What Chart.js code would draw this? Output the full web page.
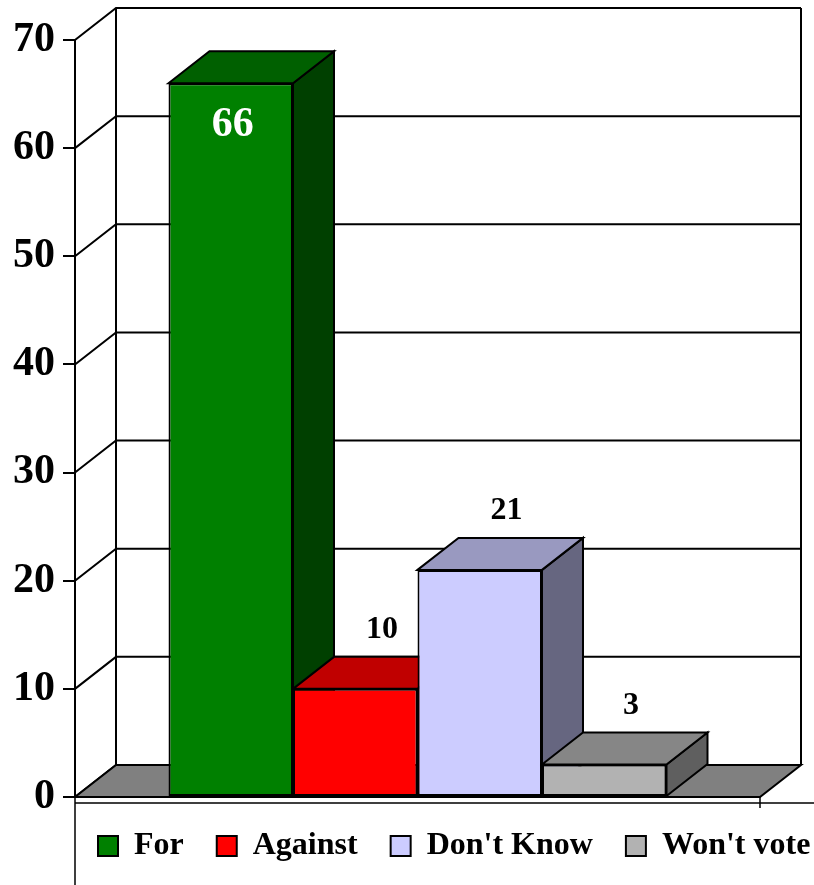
<!DOCTYPE html>
<html>
<head>
<meta charset="utf-8">
<script src="https://cdn.jsdelivr.net/npm/chart.js@4/dist/chart.umd.min.js"></script>
<style>
  html, body { margin: 0; padding: 0; background: #fff; }
  #wrap { width: 814px; height: 885px; position: relative; }
</style>
</head>
<body>
<div id="wrap"><canvas id="c"></canvas></div>
<script>
// poll result, one bar per answer
const categories = ['For', 'Against', "Don't Know", "Won't vote"];
const shares     = [66, 10, 21, 3];
const yTicks     = [0, 10, 20, 30, 40, 50, 60, 70];

const frontColors = ['#008000', '#ff0000', '#ccccff', '#b2b2b2'];
const topColors   = ['#006000', '#c00000', '#9999c0', '#868686'];
const sideColors  = ['#004000', '#800000', '#666680', '#5f5f5f'];

const DX = 41, DY = -32;          // depth of the 3D box
const SERIF = "'Liberation Serif', 'Times New Roman', serif";

function poly(ctx, pts, fill) {
  ctx.beginPath();
  ctx.moveTo(pts[0][0], pts[0][1]);
  for (let i = 1; i < pts.length; i++) ctx.lineTo(pts[i][0], pts[i][1]);
  ctx.closePath();
  if (fill) { ctx.fillStyle = fill; ctx.fill(); }
  ctx.stroke();
}

const box3d = {
  id: 'box3d',
  afterLayout(chart) {
    // legend sits under the plot frame, not centred on the canvas
    chart.legend.left += 65;
    chart.legend.right += 65;
  },
  beforeDatasetsDraw(chart) {
    const { ctx, chartArea: a, scales: { y } } = chart;
    const L = a.left, R = a.right;
    ctx.save();
    ctx.strokeStyle = '#000';
    ctx.lineWidth = 2;
    ctx.lineJoin = 'miter';

    // walls + grid on the back
    yTicks.forEach(v => {
      const py = y.getPixelForValue(v);
      ctx.beginPath();
      ctx.moveTo(L, py);
      ctx.lineTo(L + DX, py + DY);
      ctx.lineTo(R + DX, py + DY);
      ctx.stroke();
    });
    const yTop = y.getPixelForValue(yTicks[yTicks.length - 1]);
    const y0 = y.getPixelForValue(0);
    ctx.beginPath();
    ctx.moveTo(L + DX, yTop + DY); ctx.lineTo(L + DX, y0 + DY);
    ctx.moveTo(R + DX, yTop + DY); ctx.lineTo(R + DX, y0 + DY);
    ctx.stroke();

    // floor
    poly(ctx, [[L, y0], [R, y0], [R + DX, y0 + DY], [L + DX, y0 + DY]], '#808080');

    // side and top faces, left to right
    shares.forEach((v, i) => {
      const bar = chart.getDatasetMeta(i).data[0];
      const { x, y: top, base, width } = bar.getProps(['x', 'y', 'base', 'width'], true);
      const x1 = x - width / 2, x2 = x + width / 2;
      poly(ctx, [[x2, top], [x2 + DX, top + DY], [x2 + DX, base + DY], [x2, base]], sideColors[i]);
      poly(ctx, [[x1, top], [x1 + DX, top + DY], [x2 + DX, top + DY], [x2, top]], topColors[i]);
    });
    ctx.restore();
  },
  afterDatasetsDraw(chart) {
    const { ctx } = chart;
    ctx.save();
    ctx.textAlign = 'center';
    ctx.textBaseline = 'middle';
    shares.forEach((v, i) => {
      const bar = chart.getDatasetMeta(i).data[0];
      const { x, y: top } = bar.getProps(['x', 'y'], true);
      if (v > 30) {
        ctx.font = 'bold 42px ' + SERIF;
        ctx.fillStyle = '#fff';
        ctx.fillText(String(v), x + 2, top + 42);
      } else {
        ctx.font = 'bold 32px ' + SERIF;
        ctx.fillStyle = '#000';
        ctx.fillText(String(v), x + DX * 0.65, top + DY - 27);
      }
    });
    ctx.restore();
  },
  afterDraw(chart) {
    const { ctx, chartArea: a, scales: { y } } = chart;
    const y0 = y.getPixelForValue(0);
    ctx.save();
    ctx.strokeStyle = '#000';
    ctx.lineWidth = 1.5;
    ctx.beginPath();
    ctx.moveTo(a.left, y0 + 6); ctx.lineTo(chart.width, y0 + 6);
    ctx.moveTo(a.left, y0); ctx.lineTo(a.left, chart.height);
    ctx.moveTo(a.right, y0); ctx.lineTo(a.right, y0 + 11);
    ctx.stroke();
    ctx.restore();
  }
};

new Chart(document.getElementById('c'), {
  type: 'bar',
  data: {
    labels: [''],
    datasets: categories.map((c, i) => ({
      label: c,
      data: [shares[i]],
      backgroundColor: frontColors[i],
      borderColor: '#000',
      borderWidth: 2,
      borderSkipped: false,
      categoryPercentage: 0.727,
      barPercentage: 1,
    })),
  },
  options: {
    responsive: true,
    maintainAspectRatio: false,
    animation: false,
    layout: { padding: { top: 40, right: 0, bottom: 13, left: 0 } },
    plugins: {
      tooltip: { enabled: false },
      legend: {
        position: 'bottom',
        align: 'start',
        labels: {
          color: '#000',
          boxWidth: 20,
          boxHeight: 20,
          padding: 33,
          font: { family: SERIF, size: 32, weight: 'bold' },
        },
      },
    },
    scales: {
      x: { display: false },
      y: {
        min: yTicks[0],
        max: yTicks[yTicks.length - 1],
        afterBuildTicks: s => { s.ticks = yTicks.map(v => ({ value: v })); },
        afterFit: s => { s.width = 75; },
        border: { display: true, color: '#000', width: 2 },
        grid: { drawOnChartArea: false, drawTicks: true, tickLength: 12, color: '#000', lineWidth: 2 },
        ticks: {
          color: '#000',
          padding: 8,
          font: { family: SERIF, size: 42, weight: 'bold' },
        },
      },
      yPad: {
        position: 'right',
        min: 0, max: 1,
        grid: { display: false },
        border: { display: false },
        ticks: { display: false },
        afterFit: s => { s.width = 54; },
      },
    },
  },
  plugins: [box3d],
});
</script>
</body>
</html>
